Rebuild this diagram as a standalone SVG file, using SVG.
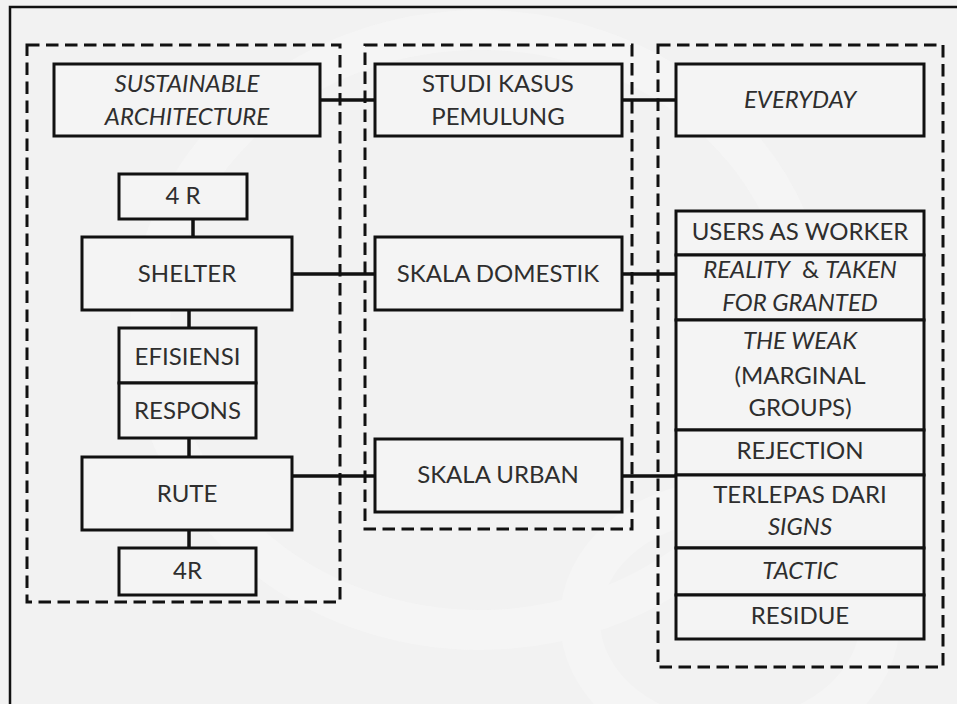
<svg xmlns="http://www.w3.org/2000/svg" width="957" height="704" viewBox="0 0 957 704">
<defs>
<style>
.bg{fill:#f2f2f2}
.frame{fill:none;stroke:#111;stroke-width:2.5}
.group{fill:none;stroke:#111;stroke-width:3;stroke-dasharray:12.5 6.5}
.box{fill:#f4f4f4;stroke:#111;stroke-width:3}
.conn{stroke:#111;stroke-width:3.5;fill:none}
text{font-family:Lato,"Liberation Sans",sans-serif;font-size:24px;fill:#2e2e2e;text-anchor:middle}
.i{font-style:italic}
</style>
</defs>
<rect class="bg" x="0" y="0" width="957" height="704"/>
<g opacity="0.4">
<ellipse cx="480" cy="330" rx="330" ry="300" fill="none" stroke="#fafafa" stroke-width="40"/>
<ellipse cx="730" cy="620" rx="150" ry="120" fill="none" stroke="#fafafa" stroke-width="40"/>
</g>
<rect class="frame" x="10" y="7" width="960" height="720"/>

<g id="groups">
<rect id="group-left" class="group" x="27" y="45" width="313" height="557"/>
<rect id="group-middle" class="group" x="365" y="45" width="267" height="484"/>
<rect id="group-right" class="group" x="658" y="45" width="285" height="622"/>
</g>

<g id="connectors">
<line class="conn" x1="320" y1="100" x2="375" y2="100"/>
<line class="conn" x1="622" y1="100" x2="676" y2="100"/>
<line class="conn" x1="193" y1="219" x2="193" y2="237"/>
<line class="conn" x1="292" y1="274" x2="375" y2="274"/>
<line class="conn" x1="622" y1="274" x2="676" y2="274"/>
<line class="conn" x1="189" y1="310" x2="189" y2="328"/>
<line class="conn" x1="189" y1="438" x2="189" y2="457"/>
<line class="conn" x1="292" y1="476" x2="375" y2="476"/>
<line class="conn" x1="622" y1="476" x2="676" y2="476"/>
<line class="conn" x1="189" y1="530" x2="189" y2="548"/>
</g>

<g id="sustainable-architecture">
<rect class="box" x="54" y="64" width="266" height="72"/>
<text class="i" x="187" y="92">SUSTAINABLE</text>
<text class="i" x="187" y="125">ARCHITECTURE</text>
</g>
<g id="studi-kasus">
<rect class="box" x="375" y="64" width="247" height="72"/>
<text x="498" y="92">STUDI KASUS</text>
<text x="498" y="125">PEMULUNG</text>
</g>
<g id="everyday">
<rect class="box" x="676" y="64" width="248" height="72"/>
<text class="i" x="800" y="108">EVERYDAY</text>
</g>
<g id="4r-top">
<rect class="box" x="119" y="174" width="128" height="45"/>
<text x="183" y="204">4 R</text>
</g>
<g id="shelter">
<rect class="box" x="82" y="237" width="210" height="73"/>
<text x="187" y="282">SHELTER</text>
</g>
<g id="skala-domestik">
<rect class="box" x="375" y="237" width="247" height="73"/>
<text x="498" y="282">SKALA DOMESTIK</text>
</g>
<g id="efisiensi">
<rect class="box" x="119" y="328" width="137" height="55"/>
<text x="187.5" y="365">EFISIENSI</text>
</g>
<g id="respons">
<rect class="box" x="119" y="383" width="137" height="55"/>
<text x="187.5" y="419">RESPONS</text>
</g>
<g id="rute">
<rect class="box" x="82" y="457" width="210" height="73"/>
<text x="187" y="502">RUTE</text>
</g>
<g id="skala-urban">
<rect class="box" x="375" y="439" width="247" height="73"/>
<text x="498" y="483">SKALA URBAN</text>
</g>
<g id="4r-bottom">
<rect class="box" x="119" y="548" width="137" height="47"/>
<text x="187.5" y="579">4R</text>
</g>

<g id="users-as-worker">
<rect class="box" x="676" y="211" width="248" height="44"/>
<text x="800" y="240">USERS AS WORKER</text>
</g>
<g id="reality">
<rect class="box" x="676" y="255" width="248" height="65"/>
<text x="800" y="278"><tspan class="i">REALITY</tspan><tspan dx="12">&amp;</tspan> <tspan class="i">TAKEN</tspan></text>
<text class="i" x="800" y="311">FOR GRANTED</text>
</g>
<g id="the-weak">
<rect class="box" x="676" y="320" width="248" height="110"/>
<text class="i" x="800" y="349">THE WEAK</text>
<text x="800" y="384">(MARGINAL</text>
<text x="800" y="416">GROUPS)</text>
</g>
<g id="rejection">
<rect class="box" x="676" y="430" width="248" height="45"/>
<text x="800" y="459">REJECTION</text>
</g>
<g id="terlepas">
<rect class="box" x="676" y="475" width="248" height="73"/>
<text x="800" y="503">TERLEPAS DARI</text>
<text class="i" x="800" y="535">SIGNS</text>
</g>
<g id="tactic">
<rect class="box" x="676" y="548" width="248" height="47"/>
<text class="i" x="800" y="579">TACTIC</text>
</g>
<g id="residue">
<rect class="box" x="676" y="595" width="248" height="44"/>
<text x="800" y="624">RESIDUE</text>
</g>
</svg>
